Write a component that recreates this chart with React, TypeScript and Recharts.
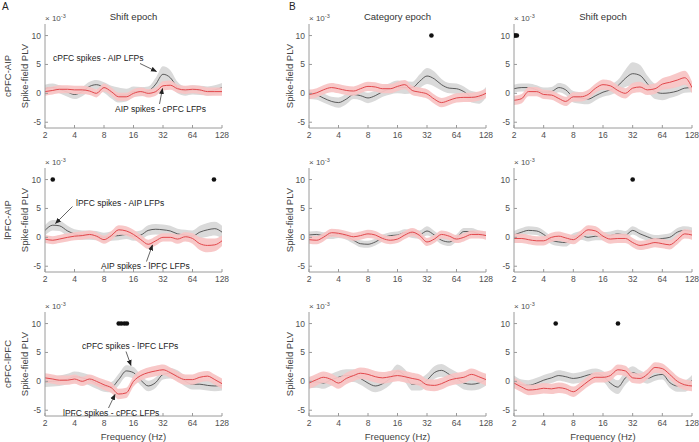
import React from 'react';
import { ComposedChart, Area, Line, Scatter, XAxis, YAxis } from 'recharts';

// Frequency grid (Hz)
const freqs = [2, 2.4, 2.8, 3.4, 4, 4.8, 5.7, 6.7, 8, 9.5, 11.3, 13.5, 16, 19, 22.6, 27, 32, 38, 45, 54, 64, 76, 91, 108, 128];
const xTicks = [2, 4, 8, 16, 32, 64, 128];
const yTicks = [-5, 0, 5, 10];
const sigLevel = 10;

// Panel A (Shift epoch) — cPFC-AIP
const aTopBlack = [0.8, 1.0, 0.7, 0.2, -0.2, 0.3, 1.2, 1.5, 1.0, 0.2, -0.3, -0.3, 0.3, 0.3, 0.4, 1.6, 3.3, 2.7, 1.0, 0.4, 0.6, 0.5, 0.4, 0.6, 1.0];
const aTopBlackErr = [0.7, 0.7, 0.7, 0.8, 0.8, 0.8, 0.8, 0.8, 0.9, 1.1, 1.3, 1.1, 0.9, 0.8, 0.8, 1.1, 1.4, 1.3, 1.0, 0.8, 0.8, 0.8, 0.8, 0.8, 0.8];
const aTopRed = [0.3, 0.5, 0.7, 0.7, 0.6, 0.6, 0.4, 0.0, 1.0, 0.3, -0.6, -0.6, 0.0, 0.3, 0.0, 0.3, 1.3, 1.4, 0.8, 0.6, 0.7, 0.6, 0.3, 0.3, 0.3];
const aTopRedErr = [0.7, 0.7, 0.7, 0.7, 0.7, 0.7, 0.7, 0.7, 0.7, 0.7, 0.7, 0.7, 0.7, 0.7, 0.7, 0.7, 0.8, 0.8, 0.7, 0.7, 0.7, 0.7, 0.7, 0.7, 0.7];
const aTopDots: number[] = [];

// Panel A — lPFC-AIP
const aMidBlack = [1.2, 2.1, 2.0, 1.1, 0.6, 0.4, 0.4, 0.3, 0.0, 0.2, 0.3, 0.5, 0.2, 0.4, 1.2, 1.4, 1.3, 1.1, 0.6, 0.4, 0.2, 0.9, 1.3, 1.5, 0.9];
const aMidBlackErr = [0.9, 0.9, 0.9, 0.9, 0.8, 0.8, 0.8, 0.8, 0.8, 0.8, 0.8, 0.8, 0.8, 0.8, 0.9, 0.9, 0.9, 0.9, 0.9, 0.9, 1.0, 1.1, 1.2, 1.2, 1.1];
const aMidRed = [-0.3, -0.5, -0.3, 0.0, 0.2, 0.3, 0.5, 0.2, -0.4, 0.3, 1.3, 1.1, 0.5, -0.4, -1.2, -0.6, 0.0, 0.0, -0.3, 0.1, -0.2, -1.1, -1.4, -1.3, -0.6];
const aMidRedErr = [0.7, 0.7, 0.7, 0.7, 0.7, 0.7, 0.7, 0.7, 0.7, 0.8, 0.8, 0.8, 0.8, 0.8, 0.8, 0.8, 0.7, 0.7, 0.8, 0.8, 0.9, 1.1, 1.2, 1.1, 0.9];
const aMidDots = [2.4, 106];

// Panel A — cPFC-lPFC
const aBotBlack = [-0.1, 0.0, 0.1, 0.4, 0.8, 0.6, 0.2, -0.4, -0.9, -1.0, 0.3, 1.8, 1.5, 0.2, -0.8, -0.2, 1.2, 1.4, 1.0, 0.0, -0.5, -0.5, -0.7, -0.8, -0.7];
const aBotBlackErr = [0.9, 0.9, 0.9, 0.9, 0.9, 0.9, 0.9, 0.9, 0.9, 0.9, 1.0, 1.0, 1.0, 0.9, 0.9, 0.9, 0.9, 0.9, 0.9, 0.9, 0.9, 0.9, 0.9, 0.9, 0.9];
const aBotRed = [0.6, 0.4, 0.2, 0.2, 0.4, 0.0, 0.4, 0.0, -0.6, -1.1, -2.2, -2.0, 0.0, 1.0, 1.5, 1.8, 2.0, 1.5, 0.8, 0.3, 0.3, 0.7, 0.9, 0.3, -0.4];
const aBotRedErr = [0.8, 0.8, 0.8, 0.8, 0.8, 0.8, 0.8, 0.8, 0.9, 0.9, 0.9, 0.9, 0.9, 0.9, 0.9, 0.9, 0.9, 0.9, 0.9, 0.9, 0.9, 0.9, 0.9, 0.9, 0.9];
const aBotDots = [11.3, 12, 12.9, 13.7];

// Panel B (Category epoch) — cPFC-AIP
const b1TopBlack = [-0.2, -0.3, -0.8, -1.4, -1.6, -1.0, -0.2, -0.4, -0.8, -0.4, 0.3, 0.8, 1.1, 1.0, 1.0, 2.1, 3.0, 2.5, 1.5, 0.9, 0.8, 0.3, -0.6, -0.8, 0.2];
const b1TopBlackErr = [0.8, 0.8, 0.8, 0.8, 0.9, 0.9, 0.8, 0.8, 0.9, 0.9, 0.9, 1.0, 1.1, 1.1, 1.0, 1.2, 1.4, 1.3, 1.0, 0.9, 0.9, 0.9, 1.0, 1.0, 0.9];
const b1TopRed = [-0.2, 0.1, 0.6, 1.0, 0.8, 0.5, 0.4, 0.8, 1.2, 1.1, 0.8, 0.8, 1.2, 1.5, 0.5, 0.2, -0.1, -1.0, -1.6, -1.2, -0.8, -0.7, -0.7, -0.5, 0.0];
const b1TopRedErr = [0.8, 0.8, 0.8, 0.8, 0.8, 0.8, 0.8, 0.8, 0.8, 0.8, 0.8, 0.8, 0.8, 0.8, 0.8, 0.8, 0.8, 0.8, 0.8, 0.8, 0.8, 0.8, 0.8, 0.8, 0.8];
const b1TopDots = [35.5];

// Panel B (Shift epoch) — cPFC-AIP
const b2TopBlack = [0.8, 1.0, 1.0, 0.6, 0.2, 0.3, 1.0, 0.6, -0.6, -0.8, -1.0, -0.4, 0.2, 0.6, 1.3, 2.6, 3.4, 3.1, 1.7, 0.3, 0.0, 0.1, 0.4, 0.9, 1.0];
const b2TopBlackErr = [0.7, 0.7, 0.7, 0.8, 0.8, 0.8, 0.8, 0.9, 1.0, 1.0, 0.9, 0.8, 0.8, 0.9, 1.0, 1.5, 2.0, 1.8, 1.4, 1.3, 1.2, 0.9, 0.8, 0.8, 0.8];
const b2TopRed = [-1.2, -0.9, 0.3, 0.3, -0.2, -0.3, -0.9, -1.4, -0.6, -0.6, -0.2, 0.9, 1.5, 1.3, 0.5, 0.0, 0.9, 1.1, 0.6, 0.8, 1.6, 1.9, 2.3, 2.7, 1.0];
const b2TopRedErr = [0.8, 0.8, 0.8, 0.8, 0.8, 0.8, 0.8, 0.8, 0.8, 0.8, 0.8, 0.8, 0.9, 0.9, 0.9, 0.9, 0.9, 0.9, 0.9, 0.9, 1.0, 1.1, 1.2, 1.2, 1.0];
const b2TopDots = [2.0, 2.07, 2.14];

// Panel B (Category epoch) — lPFC-AIP
const b1MidBlack = [0.4, 0.5, 0.3, 0.3, 0.5, 0.2, -0.5, -1.1, -1.2, -0.8, -0.1, 0.3, 0.4, 0.8, 0.6, 0.5, 1.1, 0.4, -0.5, -0.8, -0.1, 1.0, 1.0, 0.6, 0.4];
const b1MidBlackErr = [0.6, 0.6, 0.6, 0.6, 0.6, 0.6, 0.6, 0.6, 0.6, 0.6, 0.6, 0.6, 0.6, 0.6, 0.7, 0.7, 0.8, 0.7, 0.7, 0.7, 0.6, 0.6, 0.6, 0.6, 0.6];
const b1MidRed = [-0.4, -0.5, 0.0, 0.8, 0.7, 0.4, 0.1, 0.3, 0.6, 0.4, -0.2, -0.5, -0.3, 0.4, 0.9, 0.3, -0.8, -0.3, 0.5, 0.2, -0.3, 0.0, 0.5, 0.5, 0.3];
const b1MidRedErr = [0.7, 0.7, 0.7, 0.7, 0.7, 0.7, 0.7, 0.7, 0.7, 0.7, 0.7, 0.7, 0.7, 0.7, 0.7, 0.7, 0.7, 0.7, 0.7, 0.7, 0.7, 0.7, 0.7, 0.7, 0.7];
const b1MidDots: number[] = [];

// Panel B (Shift epoch) — lPFC-AIP
const b2MidBlack = [0.4, 0.9, 1.2, 1.1, 0.5, -0.5, -0.8, -0.9, 0.0, 0.3, 0.0, 0.2, 0.2, 0.3, 0.6, 0.4, 1.2, 0.6, 0.1, -0.3, -0.2, 0.0, 0.9, 1.2, 1.0];
const b2MidBlackErr = [0.7, 0.7, 0.7, 0.7, 0.7, 0.7, 0.7, 0.7, 0.7, 0.7, 0.7, 0.7, 0.7, 0.7, 0.7, 0.7, 0.7, 0.7, 0.7, 0.7, 0.7, 0.7, 0.7, 0.7, 0.7];
const b2MidRed = [-0.2, -0.2, -0.4, -0.6, -0.6, 0.0, 0.2, -0.1, -0.4, 0.4, 1.3, 1.1, 0.2, -0.3, -0.2, -0.2, -0.9, -1.4, -1.2, -0.9, -1.1, -1.3, -0.4, 0.6, 0.4];
const b2MidRedErr = [0.8, 0.8, 0.8, 0.8, 0.8, 0.8, 0.8, 0.8, 0.8, 0.8, 0.8, 0.8, 0.8, 0.8, 0.8, 0.8, 0.8, 0.8, 0.8, 0.8, 0.8, 0.8, 0.8, 0.8, 0.8];
const b2MidDots = [32];

// Panel B (Category epoch) — cPFC-lPFC
const b1BotBlack = [-0.2, -0.1, -0.3, 0.3, 0.7, 1.0, 1.0, 0.5, -0.3, -0.8, -0.4, 0.5, 1.8, 1.0, -0.5, -0.5, 0.2, 1.5, 1.9, 1.2, 0.5, -0.3, -0.5, -0.3, 0.3];
const b1BotBlackErr = [1.0, 1.0, 1.0, 1.0, 1.1, 1.1, 1.1, 1.1, 1.1, 1.1, 1.1, 1.1, 1.1, 1.1, 1.1, 1.1, 1.1, 1.1, 1.1, 1.1, 1.1, 1.1, 1.1, 1.1, 1.0];
const b1BotRed = [-0.3, 0.3, 0.7, 0.3, -0.3, 0.5, 1.0, 1.4, 1.2, 0.8, 0.6, 0.8, 1.0, 0.8, 0.5, 0.2, -0.6, -0.7, -0.4, 0.2, 0.5, 0.7, 1.2, 0.8, 0.3];
const b1BotRedErr = [1.0, 1.0, 1.0, 1.0, 1.0, 1.0, 1.0, 1.0, 1.0, 1.0, 1.0, 1.0, 1.0, 1.0, 1.0, 1.0, 1.0, 1.0, 1.0, 1.0, 1.0, 1.0, 1.0, 1.0, 1.0];
const b1BotDots: number[] = [];

// Panel B (Shift epoch) — cPFC-lPFC
const b2BotBlack = [0.1, -0.6, -0.7, -0.3, 0.2, 0.6, 1.0, 0.8, 0.5, 0.7, 1.1, 1.3, 0.9, -0.3, -1.0, 0.6, 1.5, 1.0, 0.5, 1.0, 1.2, -0.2, -0.8, -0.8, 0.2];
const b2BotBlackErr = [0.9, 0.9, 0.9, 0.9, 0.9, 0.9, 0.9, 0.9, 0.9, 0.9, 0.9, 0.9, 0.9, 1.2, 1.2, 1.2, 1.1, 0.9, 0.9, 0.9, 0.9, 0.9, 1.0, 1.0, 0.9];
const b2BotRed = [-0.3, -1.0, -1.5, -1.4, -1.2, -1.3, -1.1, -1.3, -1.8, -1.0, 0.0, 0.7, 0.7, 1.0, 2.0, 1.8, 0.6, 0.5, 1.2, 2.4, 2.2, 1.2, 0.0, -0.6, -0.8];
const b2BotRedErr = [0.9, 0.9, 0.9, 0.9, 0.9, 0.9, 0.9, 0.9, 0.9, 0.9, 0.9, 0.9, 0.9, 0.9, 0.9, 0.9, 0.9, 0.9, 0.9, 0.9, 0.9, 0.9, 0.9, 0.9, 0.9];
const b2BotDots = [5.3, 22.7];

const colLefts = [45, 309, 514];
const colWidths = [177, 177, 178];
const rowTops = [24, 168, 312];
const PLOT_H = 104;

const YW = 40;
const MT = 10;
const MR = 10;
const XH = 20;

const FRAME = '#9a9a9a';
const TICK_TEXT = '#505050';
const FONT = '"Liberation Sans", Arial, Helvetica, sans-serif';

type PanelDef = {
  col: number; row: number;
  black: number[]; blackErr: number[]; red: number[]; redErr: number[]; dots: number[];
};

const panels: PanelDef[] = [
  { col: 0, row: 0, black: aTopBlack, blackErr: aTopBlackErr, red: aTopRed, redErr: aTopRedErr, dots: aTopDots },
  { col: 0, row: 1, black: aMidBlack, blackErr: aMidBlackErr, red: aMidRed, redErr: aMidRedErr, dots: aMidDots },
  { col: 0, row: 2, black: aBotBlack, blackErr: aBotBlackErr, red: aBotRed, redErr: aBotRedErr, dots: aBotDots },
  { col: 1, row: 0, black: b1TopBlack, blackErr: b1TopBlackErr, red: b1TopRed, redErr: b1TopRedErr, dots: b1TopDots },
  { col: 1, row: 1, black: b1MidBlack, blackErr: b1MidBlackErr, red: b1MidRed, redErr: b1MidRedErr, dots: b1MidDots },
  { col: 1, row: 2, black: b1BotBlack, blackErr: b1BotBlackErr, red: b1BotRed, redErr: b1BotRedErr, dots: b1BotDots },
  { col: 2, row: 0, black: b2TopBlack, blackErr: b2TopBlackErr, red: b2TopRed, redErr: b2TopRedErr, dots: b2TopDots },
  { col: 2, row: 1, black: b2MidBlack, blackErr: b2MidBlackErr, red: b2MidRed, redErr: b2MidRedErr, dots: b2MidDots },
  { col: 2, row: 2, black: b2BotBlack, blackErr: b2BotBlackErr, red: b2BotRed, redErr: b2BotRedErr, dots: b2BotDots },
];

const titles = ['Shift epoch', 'Category epoch', 'Shift epoch'];
const rowLabels = ['cPFC-AIP', 'lPFC-AIP', 'cPFC-lPFC'];

const annotations = [
  { text: 'cPFC spikes - AIP LFPs', x: 53, y: 60.5, ax1: 140, ay1: 63.5, ax2: 156.5, ay2: 71.5 },
  { text: 'AIP spikes - cPFC LFPs', x: 115, y: 112, ax1: 159.5, ay1: 104, ax2: 162.5, ay2: 88.5 },
  { text: 'lPFC spikes - AIP LFPs', x: 76, y: 206, ax1: 72.5, ay1: 206.5, ax2: 55.5, ay2: 223.5 },
  { text: 'AIP spikes - lPFC LFPs', x: 101, y: 268.5, ax1: 146.5, ay1: 261.5, ax2: 152.5, ay2: 245 },
  { text: 'cPFC spikes - lPFC LFPs', x: 82, y: 349, ax1: 126, ay1: 351.5, ax2: 131, ay2: 365.5 },
  { text: 'lPFC spikes - cPFC LFPs', x: 63, y: 415.5, ax1: 108.5, ay1: 408, ax2: 115, ay2: 394.5 },
];

const DotShape = (props: any) => <circle cx={props.cx} cy={props.cy} r={2.3} fill="#111" />;

function Panel({ p }: { p: PanelDef }) {
  const L = colLefts[p.col];
  const W = colWidths[p.col];
  const T = rowTops[p.row];
  const rows = freqs.map((f, i) => ({
    f,
    g: [p.black[i] - p.blackErr[i], p.black[i] + p.blackErr[i]],
    b: p.black[i],
    pk: [p.red[i] - p.redErr[i], p.red[i] + p.redErr[i]],
    r: p.red[i],
  }));
  const dotRows = p.dots.map((f) => ({ f, s: sigLevel }));
  const cw = YW + W + MR;
  const ch = MT + PLOT_H + XH;
  const tickStyle = { fontSize: 8.5, fill: TICK_TEXT, fontFamily: FONT };
  return (
    <div style={{ position: 'absolute', left: L - YW, top: T - MT, width: cw, height: ch }}>
      <ComposedChart width={cw} height={ch} data={rows} margin={{ top: MT, right: MR, bottom: 0, left: 0 }}>
        <XAxis dataKey="f" type="number" scale="log" domain={[2, 128]} ticks={xTicks} allowDataOverflow interval={0}
          height={XH} tickSize={-3} tickMargin={7} stroke={FRAME} tick={tickStyle} />
        <XAxis xAxisId="top" dataKey="f" orientation="top" type="number" scale="log" domain={[2, 128]} ticks={xTicks}
          allowDataOverflow interval={0} height={0} tickSize={-3} stroke={FRAME} tickFormatter={() => ''} />
        <YAxis type="number" domain={[-6, 12]} ticks={yTicks} allowDataOverflow interval={0} width={YW}
          tickSize={-3} tickMargin={7} stroke={FRAME} tick={tickStyle} />
        <YAxis yAxisId="right" orientation="right" type="number" domain={[-6, 12]} ticks={yTicks} allowDataOverflow
          interval={0} width={0} tickSize={-3} stroke={FRAME} tickFormatter={() => ''} />
        <Area dataKey="g" type="monotone" stroke="none" fill="#dadada" fillOpacity={1} isAnimationActive={false} />
        <Area dataKey="b" type="monotone" stroke="#383838" strokeWidth={0.8} fill="none" dot={false} activeDot={false} isAnimationActive={false} />
        <Area dataKey="pk" type="monotone" stroke="none" fill="#f8c4c4" fillOpacity={0.93} isAnimationActive={false} />
        <Line dataKey="r" type="monotone" stroke="#e2474b" strokeWidth={1} dot={false} isAnimationActive={false} />
        <Scatter data={dotRows} dataKey="s" shape={DotShape} isAnimationActive={false} />
      </ComposedChart>
    </div>
  );
}

export default function App() {
  return (
    <div style={{ position: 'absolute', left: 0, top: 0, width: 699, height: 442, background: '#fff', fontFamily: FONT, overflow: 'hidden' }}>
      {panels.map((p, i) => <Panel key={i} p={p} />)}
      <svg width={699} height={442} style={{ position: 'absolute', left: 0, top: 0, pointerEvents: 'none' }} fontFamily={FONT}>
        <defs>
          <marker id="ah" markerWidth={6} markerHeight={6} refX={5.5} refY={3} orient="auto" markerUnits="userSpaceOnUse">
            <path d="M0,0.5 L6,3 L0,5.5 z" fill="#222" />
          </marker>
        </defs>
        <text x={2} y={10} fontSize={10} fill="#222">A</text>
        <text x={289} y={10} fontSize={10} fill="#222">B</text>
        {titles.map((t, c) => (
          <text key={'t' + c} x={colLefts[c] + colWidths[c] / 2} y={20} fontSize={9.5} fill="#333" textAnchor="middle">{t}</text>
        ))}
        {panels.map((p, i) => (
          <text key={'e' + i} x={colLefts[p.col]} y={rowTops[p.row] - 3} fontSize={8} fill={TICK_TEXT}>
            <tspan>× 10</tspan><tspan dy={-3.5} fontSize={5.5}>-3</tspan>
          </text>
        ))}
        {rowTops.map((T, r) => (
          <g key={'yl' + r}>
            <text transform={`translate(25,${T + PLOT_H / 2}) rotate(-90)`} dy="0.35em" fontSize={9.5} fill="#444" textAnchor="middle">Spike-field PLV</text>
            <text transform={`translate(290,${T + PLOT_H / 2}) rotate(-90)`} dy="0.35em" fontSize={9.5} fill="#444" textAnchor="middle">Spike-field PLV</text>
            <text transform={`translate(8,${T + PLOT_H / 2}) rotate(-90)`} dy="0.35em" fontSize={9.5} fill="#444" textAnchor="middle">{rowLabels[r]}</text>
          </g>
        ))}
        {colLefts.map((L, c) => (
          <text key={'xl' + c} x={L + colWidths[c] / 2} y={440} fontSize={9.5} fill="#444" textAnchor="middle">Frequency (Hz)</text>
        ))}
        {annotations.map((a, i) => (
          <g key={'a' + i}>
            <text x={a.x} y={a.y} fontSize={8.5} fill="#222">{a.text}</text>
            <line x1={a.ax1} y1={a.ay1} x2={a.ax2} y2={a.ay2} stroke="#222" strokeWidth={0.7} markerEnd="url(#ah)" />
          </g>
        ))}
      </svg>
    </div>
  );
}
